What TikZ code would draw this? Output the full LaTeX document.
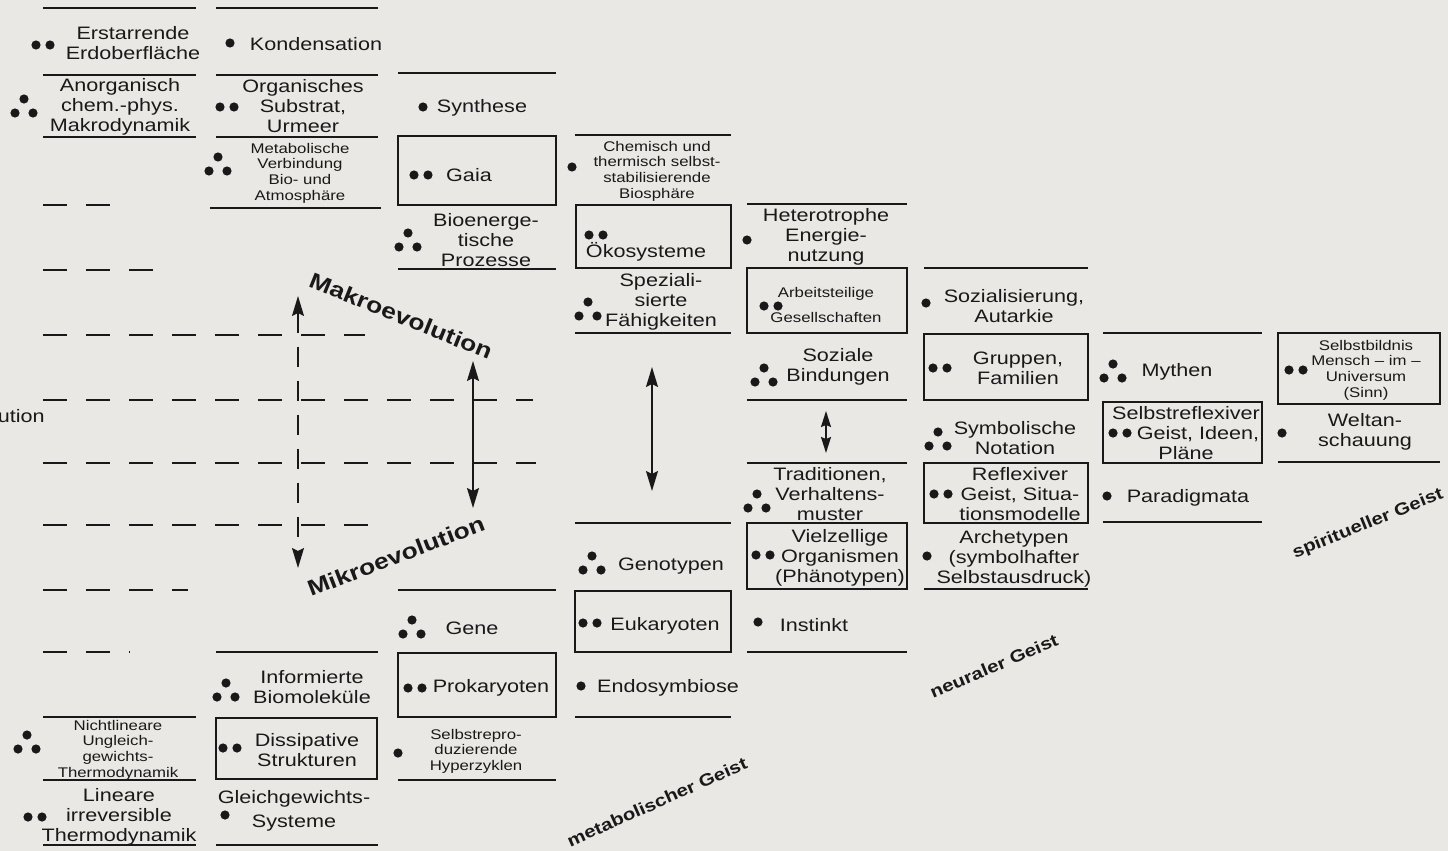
\documentclass[tikz,border=0pt]{standalone}
\usepackage{fontspec}
\setmainfont{Liberation Sans}[FakeStretch=1.2]
\usetikzlibrary{arrows.meta}

\definecolor{papier}{RGB}{234,232,228}
\definecolor{tinte}{RGB}{25,25,25}

\tikzset{
  feld/.style={align=center, inner sep=0pt, font=\fontsize{9}{10}\selectfont},
  klein/.style={align=center, inner sep=0pt, font=\fontsize{7}{7.8}\selectfont},
  geist/.style={inner sep=0pt, font=\bfseries\fontsize{8.5}{10}\selectfont},
  evolution/.style={inner sep=0pt, font=\bfseries\fontsize{11}{12}\selectfont},
  trenner/.style={line width=1pt},
  kasten/.style={line width=1pt},
  strichel/.style={line width=1pt, dash pattern=on 12pt off 9.5pt},
  spitze/.tip={Stealth[length=10pt,width=6pt,inset=1.5pt]},
  kurzspitze/.tip={Stealth[length=8pt,width=5pt,inset=1pt]},
  pfeil/.style={line width=0.8pt, spitze-spitze},
  punkt/.pic={\fill (0,0) circle (4.6);},
  zweipunkt/.pic={\fill (-7,0) circle (4.6); \fill (7,0) circle (4.6);},
  dreipunkt/.pic={\fill (0,-7) circle (4.6); \fill (-9,7) circle (4.6); \fill (9,7) circle (4.6);}
}

\begin{document}
\begin{tikzpicture}[x = 0.5pt, y = -0.5pt, color = tinte]
    \useasboundingbox (0,0) rectangle (1448,851);
    \fill[papier] (0,0) rectangle (1448,851);

    % Separators
    \foreach \y in {8,75,137,717,780,845} \draw[trenner] (43,\y) -- (196,\y);
    \foreach \y in {8,75,137,652,845} \draw[trenner] (216,\y) -- (378,\y);
    \draw[trenner] (210,208) -- (381,208);
    \foreach \y in {73,269,590,780} \draw[trenner] (398,\y) -- (556,\y);
    \foreach \y in {135,333,523,717} \draw[trenner] (575,\y) -- (731,\y);
    \foreach \y in {204,400,463,652} \draw[trenner] (747,\y) -- (907,\y);
    \foreach \y in {268,589} \draw[trenner] (924,\y) -- (1088,\y);
    \foreach \y in {333,522} \draw[trenner] (1103,\y) -- (1262,\y);
    \draw[trenner] (1278,462) -- (1440,462);

    % Boxes
    \draw[kasten] (216,718) rectangle (377,779);
    \draw[kasten] (398,136) rectangle (556,205);
    \draw[kasten] (398,653) rectangle (556,717);
    \draw[kasten] (576,205) rectangle (731,268);
    \draw[kasten] (575,591) rectangle (731,652);
    \draw[kasten] (747,268) rectangle (907,333);
    \draw[kasten] (747,523) rectangle (907,589);
    \draw[kasten] (924,334) rectangle (1088,400);
    \draw[kasten] (924,463) rectangle (1088,523);
    \draw[kasten] (1103,402) rectangle (1262,463);
    \draw[kasten] (1278,333) rectangle (1440,404);

    % Dashed rows
    \draw[strichel] (43,205) -- (120,205);
    \draw[strichel] (43,270) -- (167,270);
    \draw[strichel] (43,335) -- (365,335);
    \draw[strichel] (43,400) -- (533,400);
    \draw[strichel] (43,463) -- (536,463);
    \draw[strichel] (43,525) -- (377,525);
    \draw[strichel] (43,590) -- (188,590);
    \draw[strichel] (43,652) -- (130,652);

    % Arrows
    \coordinate (makro) at (298,296);
    \coordinate (mikro) at (298,568);
    \coordinate (a-oben) at (473,361);
    \coordinate (a-unten) at (473,508);
    \coordinate (b-oben) at (652,367);
    \coordinate (b-unten) at (652,491);
    \coordinate (c-oben) at (826,411);
    \coordinate (c-unten) at (826,453);
    \draw[pfeil, dash pattern=on 10pt off 7pt] (makro) -- (mikro);
    \draw[pfeil] (a-oben) -- (a-unten);
    \draw[pfeil] (b-oben) -- (b-unten);
    \draw[line width=0.8pt, kurzspitze-kurzspitze] (c-oben) -- (c-unten);

    % Column 1
    \node[feld] (erstarrende) at (133,43) {Erstarrende\\Erdoberfläche};
    \pic at (43,45) {zweipunkt};
    \node[feld] (anorganisch) at (120,107) {Anorganisch\\chem.-phys.\\Makrodynamik};
    \pic at (24,106) {dreipunkt};
    \node[klein] (nichtlinear) at (118,750) {Nichtlineare\\Ungleich-\\gewichts-\\Thermodynamik};
    \pic at (27,742) {dreipunkt};
    \node[feld] (lineare) at (119,817) {Lineare\\irreversible\\Thermodynamik};
    \pic at (35,817) {zweipunkt};
    \node[feld, anchor=east] (ution) at (45,416) {ution};

    % Column 2
    \node[feld] (kondensation) at (316,44) {Kondensation};
    \pic at (230,43) {punkt};
    \node[feld] (organisches) at (303,106) {Organisches\\Substrat,\\Urmeer};
    \pic at (227,107) {zweipunkt};
    \node[klein] (metabolische) at (300,173) {Metabolische\\Verbindung\\Bio- und\\Atmosphäre};
    \pic at (218,164) {dreipunkt};
    \node[feld] (informiert) at (312,687) {Informierte\\Biomoleküle};
    \pic at (226,690) {dreipunkt};
    \node[feld] (dissipativ) at (307,750) {Dissipative\\Strukturen};
    \pic at (230,748) {zweipunkt};
    \node[feld] (gleichgew) at (294,811) {Gleichgewichts-\\[2pt]Systeme};
    \pic at (225,815) {punkt};

    % Column 3
    \node[feld] (synthese) at (482,108) {Synthese};
    \pic at (423,107) {punkt};
    \node[feld] (gaia) at (469,175) {Gaia};
    \pic at (421,175) {zweipunkt};
    \node[feld] (bioenerg) at (486,240) {Bioenerge-\\tische\\Prozesse};
    \pic at (408,240) {dreipunkt};
    \node[feld] (gene) at (472,628) {Gene};
    \pic at (412,627) {dreipunkt};
    \node[feld] (prokaryoten) at (491,688) {Prokaryoten};
    \pic at (415,688) {zweipunkt};
    \node[klein] (selbstrepro) at (476,751) {Selbstrepro-\\duzierende\\Hyperzyklen};
    \pic at (398,753) {punkt};

    % Column 4
    \node[klein] (chemisch) at (657,171) {Chemisch und\\thermisch selbst-\\stabilisierende\\Biosphäre};
    \pic at (572,167) {punkt};
    \node[feld] (oekosysteme) at (646,252) {Ökosysteme};
    \pic at (596,235) {zweipunkt};
    \node[feld] (spezial) at (661,302) {Speziali-\\sierte\\Fähigkeiten};
    \pic at (588,309) {dreipunkt};
    \node[feld] (genotypen) at (671,566) {Genotypen};
    \pic at (592,563) {dreipunkt};
    \node[feld] (eukaryoten) at (665,626) {Eukaryoten};
    \pic at (590,623) {zweipunkt};
    \node[feld] (endosymbiose) at (668,688) {Endosymbiose};
    \pic at (581,686) {punkt};

    % Column 5
    \node[feld] (heterotrophe) at (826,237) {Heterotrophe\\Energie-\\nutzung};
    \pic at (747,240) {punkt};
    \node[klein] (arbeitsteilig) at (826,305) {Arbeitsteilige\\[5pt]Gesellschaften};
    \pic at (771,306) {zweipunkt};
    \node[feld] (soziale) at (838,367) {Soziale\\Bindungen};
    \pic at (764,375) {dreipunkt};
    \node[feld] (traditionen) at (830,494) {Traditionen,\\Verhaltens-\\muster};
    \pic at (757,501) {dreipunkt};
    \node[feld] (vielzellig) at (840,558) {Vielzellige\\Organismen\\(Phänotypen)};
    \pic at (763,555) {zweipunkt};
    \node[feld] (instinkt) at (814,625) {Instinkt};
    \pic at (758,622) {punkt};

    % Column 6
    \node[feld] (sozialisierung) at (1014,306) {Sozialisierung,\\Autarkie};
    \pic at (926,303) {punkt};
    \node[feld] (gruppen) at (1018,368) {Gruppen,\\Familien};
    \pic at (940,368) {zweipunkt};
    \node[feld] (symbolisch) at (1015,438) {Symbolische\\Notation};
    \pic at (938,439) {dreipunkt};
    \node[feld] (reflexiv) at (1020,494) {Reflexiver\\Geist, Situa-\\tionsmodelle};
    \pic at (941,494) {zweipunkt};
    \node[feld] (archetypen) at (1014,559) {Archetypen\\(symbolhafter\\Selbstausdruck)};
    \pic at (927,556) {punkt};

    % Column 7
    \node[feld] (mythen) at (1177,372) {Mythen};
    \pic at (1113,371) {dreipunkt};
    \node[feld] (selbstrefl) at (1186,433) {Selbstreflexiver\\\hspace*{12pt}Geist, Ideen,\\Pläne};
    \pic at (1120,433) {zweipunkt};
    \node[feld] (paradigmata) at (1188,498) {Paradigmata};
    \pic at (1107,496) {punkt};

    % Column 8
    \node[klein] (selbstbild) at (1366,370) {Selbstbildnis\\Mensch – im –\\Universum\\(Sinn)};
    \pic at (1296,370) {zweipunkt};
    \node[feld] (weltan) at (1365,432) {Weltan-\\schauung};
    \pic at (1282,433) {punkt};

    % Labels
    \node[evolution, rotate=-22] (makrolabel) at (401,316) {Makroevolution};
    \node[evolution, rotate=21] (mikrolabel) at (396,556) {Mikroevolution};
    \node[geist, rotate=24] (metabol) at (657,802) {metabolischer Geist};
    \node[geist, rotate=23] (neural) at (994,666) {neuraler Geist};
    \node[geist, rotate=22] (spirit) at (1368,524) {spiritueller Geist};
\end{tikzpicture}
\end{document}
